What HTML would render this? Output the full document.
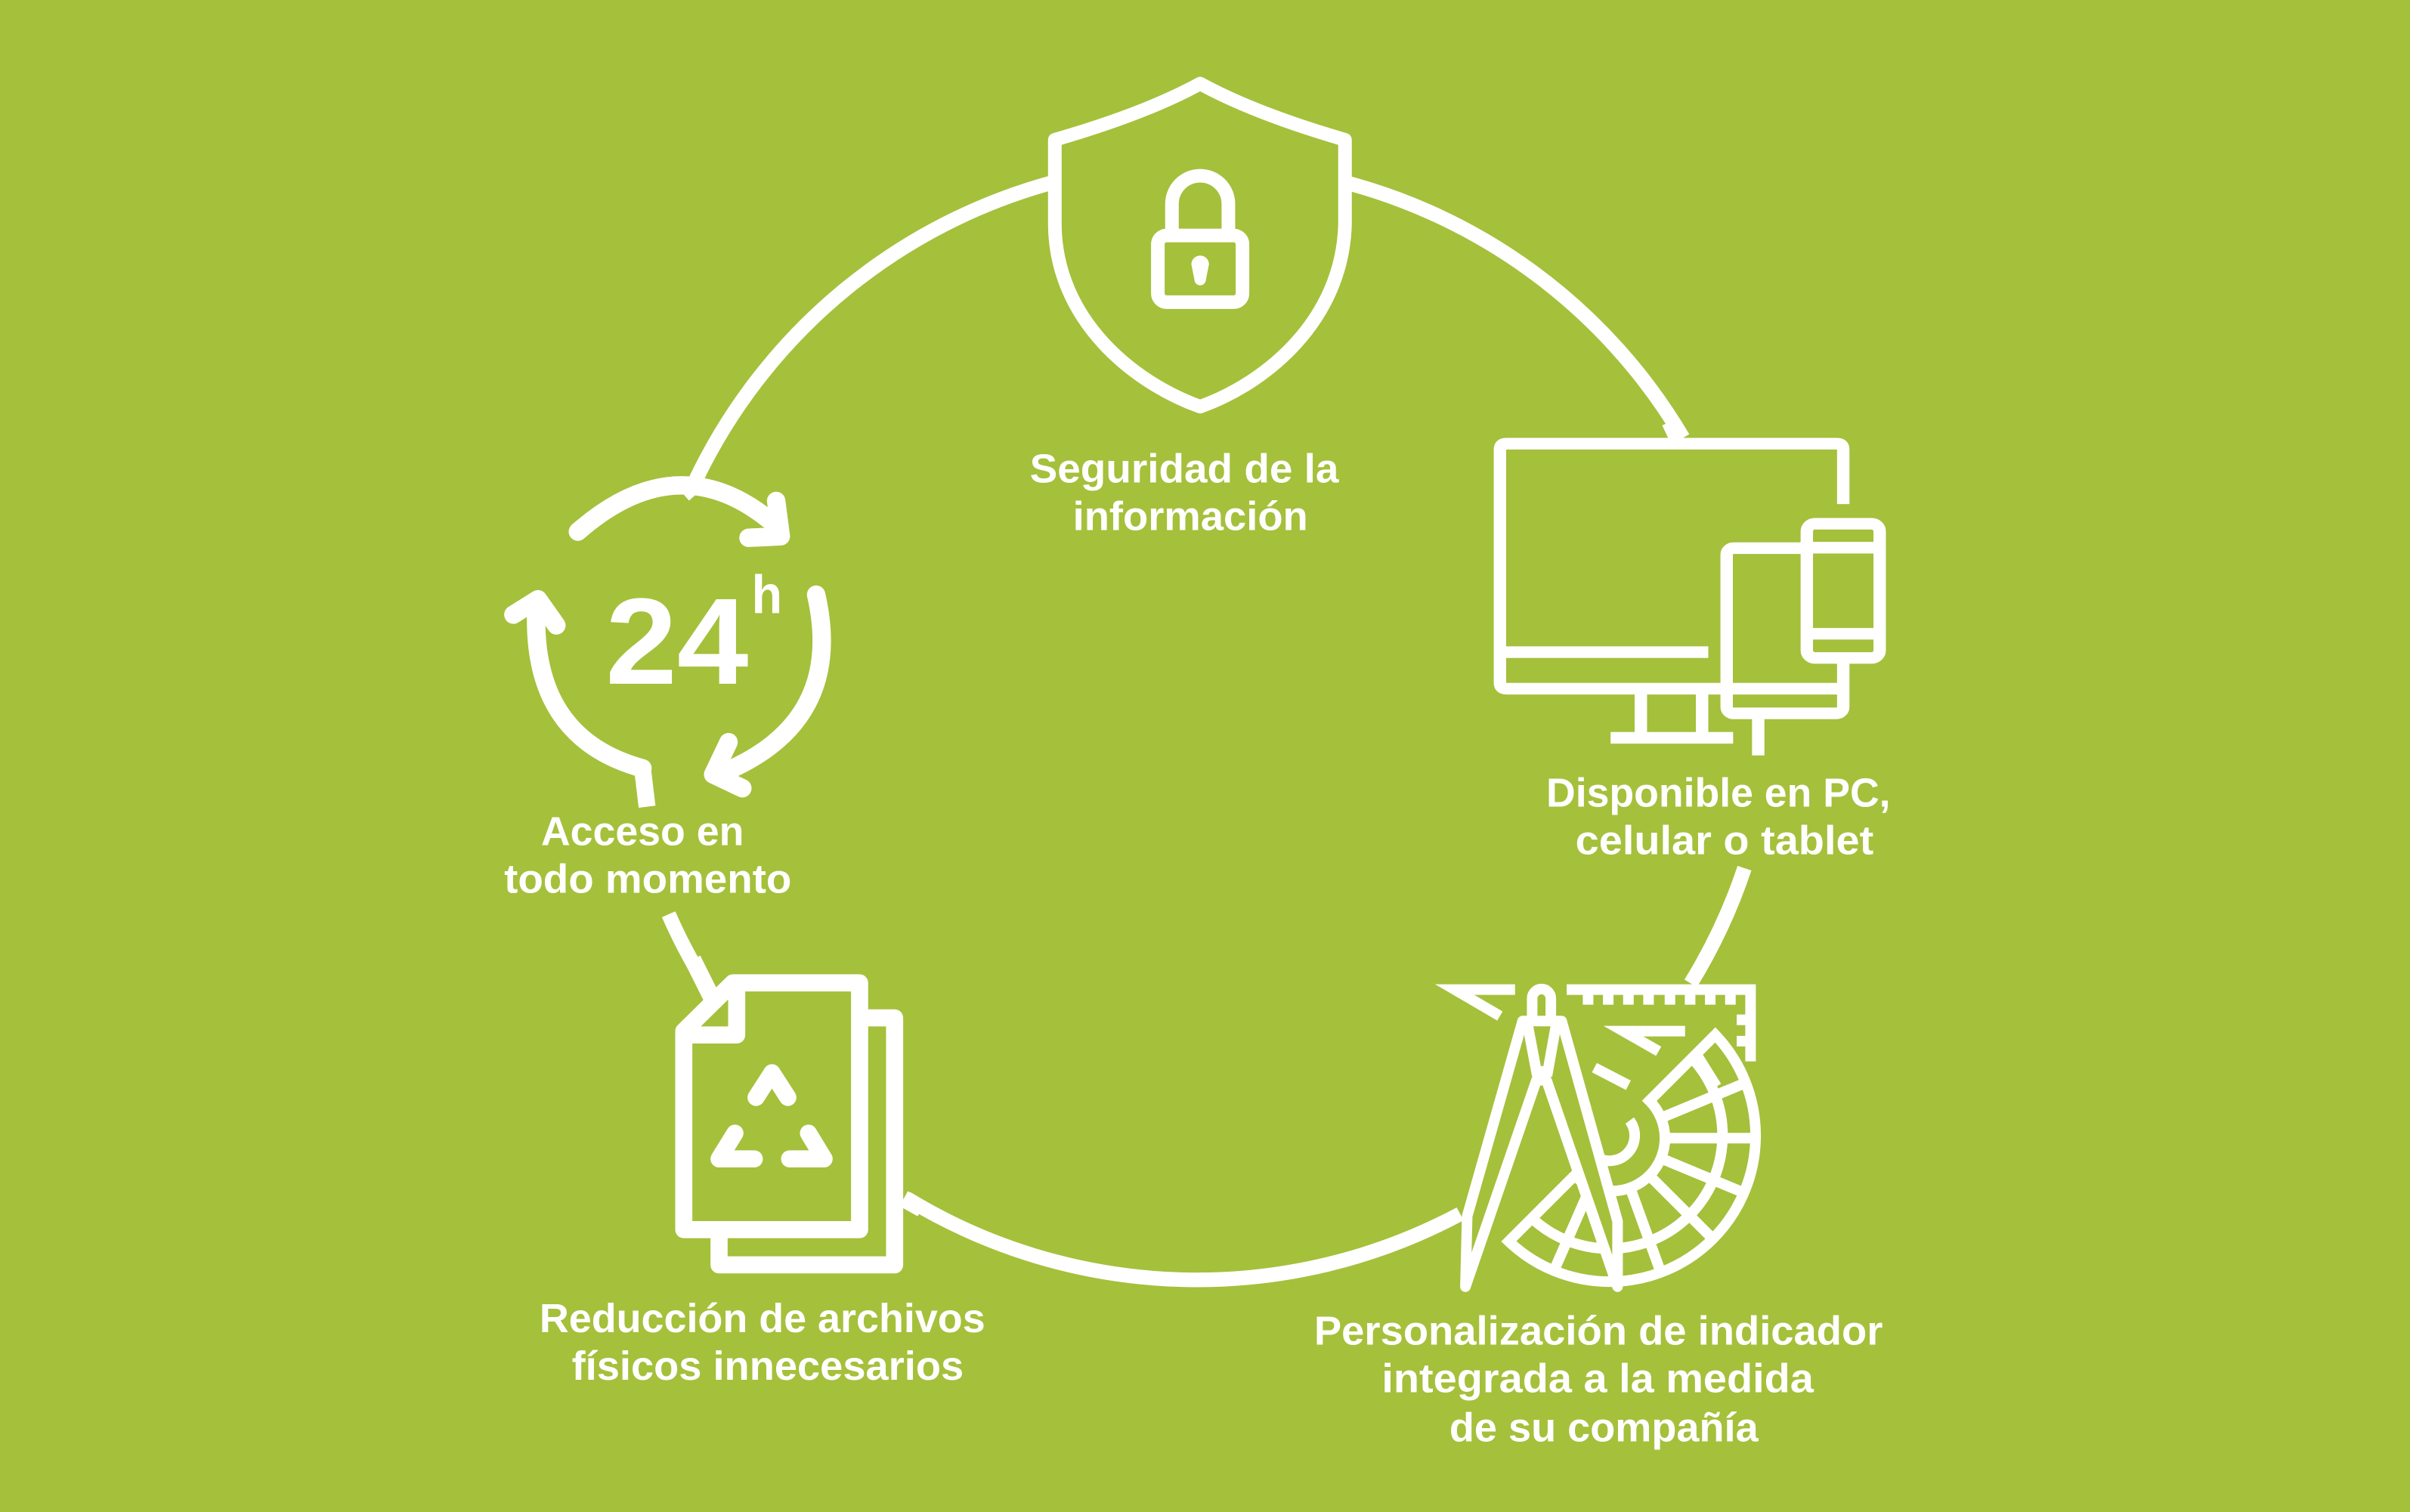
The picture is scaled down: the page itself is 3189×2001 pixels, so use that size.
<!DOCTYPE html>
<html><head><meta charset="utf-8"><style>
html,body{margin:0;padding:0;background:#a5c03b;}
svg{display:block}
text{font-family:"Liberation Sans Narrow","Liberation Sans",sans-serif;font-weight:bold;fill:#fff;font-size:26.5px}
</style></head><body>
<svg width="3189" height="2001" viewBox="0 0 1568 984" preserveAspectRatio="none" xmlns="http://www.w3.org/2000/svg">
<rect width="1568" height="984" fill="#a5c03b"/>
<g fill="none" stroke="#fff" stroke-width="9.5">
<path d="M450,318 A363,363 0 0 1 700,115"/>
<path d="M860,115 A363,363 0 0 1 1095,285"/>
<path d="M1135,565 A363,363 0 0 1 1100,640"/>
<path d="M950,790 A363,363 0 0 1 590,780"/>
<path d="M465,650 A363,363 0 0 1 435,595"/>
</g>

<!-- shield -->
<g transform="translate(668.6,44.25) scale(0.16388)" stroke="#fff" stroke-width="54" stroke-linejoin="round" stroke-linecap="round">
<path fill="#a5c03b" d="M685,62 Q900,180 1260,285 L1260,620 C1250,1000 950,1250 685,1345 C420,1250 110,1000 108,620 L108,285 Q470,180 685,62 Z"/>
<path fill="none" d="M573,650 L573,540 A112,112 0 0 1 797,540 L797,650"/>
<rect x="517" y="665" width="336" height="265" rx="35" fill="none"/>
<path fill="#fff" stroke="none" d="M650,780 A35,35 0 1 1 720,780 L708,840 A23,23 0 0 1 662,840 Z"/>
</g>

<!-- devices -->
<g transform="translate(958.7,275.3) scale(0.17559,0.16388)" fill="none" stroke="#fff" stroke-width="46">
<path d="M720,0 L762,95"/>
<path d="M1370,322 L1370,105 Q1370,82 1347,82 L121,82 Q98,82 98,105 L98,1032 Q98,1055 121,1055 L915,1055"/>
<path d="M98,910 L870,910"/>
<path d="M620,1055 L620,1250 M847,1055 L847,1250 M508,1250 L962,1250"/>
<path d="M1055,1150 L1055,1320"/>
<rect x="938" y="497" width="432" height="656" rx="25" fill="#a5c03b"/>
<path d="M938,1055 L1370,1055"/>
<rect x="1235" y="400" width="270" height="533" rx="30" fill="#a5c03b"/>
<path d="M1235,495 L1505,495 M1235,837 L1505,837"/>
</g>

<!-- 24h -->
<g fill="none" stroke="#fff" stroke-width="12" stroke-linecap="round" stroke-linejoin="round">
<path d="M453,315 L445,322" stroke-linecap="butt" stroke-width="10"/>
<path d="M376,346 Q440,290 500,338"/>
<path d="M505,326 L508,349 L487,350"/>
<path d="M418,500 Q345,480 349,395"/>
<path d="M334,400 L350,390 L362,407"/>
<path d="M418,500 L421,525" stroke-linecap="butt" stroke-width="11"/>
<path d="M531,387 Q550,470 470,503"/>
<path d="M474,483 L464,504 L483,513"/>
</g>
<text x="394" y="445" style="font-family:'Liberation Sans',sans-serif;font-size:80px" textLength="93" lengthAdjust="spacingAndGlyphs">24</text>
<text x="489" y="399" style="font-family:'Liberation Sans',sans-serif;font-size:35px" textLength="20" lengthAdjust="spacingAndGlyphs">h</text>

<!-- documents -->
<g transform="translate(432.6,624.4) scale(0.16388)" fill="none" stroke="#fff" stroke-width="68" stroke-linejoin="round" stroke-linecap="round">
<path d="M110,0 L185,150" stroke-linecap="butt"/>
<path d="M948,950 L1020,990" stroke-linecap="butt"/>
<path d="M808,232 L912,232 L912,1213 L215,1213 L215,1073"/>
<path d="M270,93 L773,93 L773,1073 L75,1073 L75,285 Z"/>
<path d="M285,93 L285,300 L75,300"/>
<path d="M362,548 L425,450 L488,548"/>
<path d="M278,690 L215,792 L355,792"/>
<path d="M570,690 L632,792 L495,792"/>
</g>

<!-- ruler / compass / protractor -->
<g transform="translate(934.1,614.5) scale(0.16388)" fill="none" stroke="#fff" stroke-width="42">
<path d="M315,180 L75,180 L255,285"/>
<path d="M520,180 L1250,180 L1250,465"/>
<path d="M605,180 L605,240 M685,180 L685,240 M765,180 L765,240 M845,180 L845,240 M930,180 L930,240 M1010,180 L1010,240 M1090,180 L1090,240 M1170,180 L1170,240 M1250,300 L1195,300 M1250,385 L1195,385"/>
<path d="M990,345 L745,345 L885,425"/>
<path d="M630,490 L765,560"/>
<path d="M1110,360 A580,580 0 0 1 290,1180 L551.5,918.5 A210,210 0 0 0 848.5,621.5 Z" fill="#a5c03b"/>
<path d="M1018,452 A450,450 0 0 1 382,1088"/>
<path d="M770,700 A100,100 0 0 1 630,840"/>
<path d="M894,690 L1236,548 M910,770 L1280,770 M894,850 L1236,992 M848,918 L1110,1180 M772,967 L898,1315 M615,964 L470,1295"/>
<path d="M1040,445 L1115,565"/>
<path d="M383,285 L383,215 A37,37 0 0 1 457,215 L457,285" />
<path fill="#a5c03b" stroke-linejoin="round" d="M345,305 L500,305 L722,1100 L722,1360 L440,540 L400,540 L118,1360 L125,1080 Z"/>
<path d="M365,320 L400,505 L445,505 L478,320"/>
</g>

<!-- labels -->
<text x="670" y="314" textLength="201" lengthAdjust="spacingAndGlyphs">Seguridad de la</text>
<text x="698" y="345" textLength="153" lengthAdjust="spacingAndGlyphs">información</text>
<text x="1006" y="525" textLength="224" lengthAdjust="spacingAndGlyphs">Disponible en PC,</text>
<text x="1025" y="556" textLength="194" lengthAdjust="spacingAndGlyphs">celular o tablet</text>
<text x="352" y="550" textLength="132" lengthAdjust="spacingAndGlyphs">Acceso en</text>
<text x="328" y="581" textLength="187" lengthAdjust="spacingAndGlyphs">todo momento</text>
<text x="351" y="867" textLength="290" lengthAdjust="spacingAndGlyphs">Reducción de archivos</text>
<text x="372" y="898" textLength="255" lengthAdjust="spacingAndGlyphs">físicos innecesarios</text>
<text x="855" y="875" textLength="370" lengthAdjust="spacingAndGlyphs">Personalización de indicador</text>
<text x="899" y="906" textLength="281" lengthAdjust="spacingAndGlyphs">integrada a la medida</text>
<text x="943" y="938" textLength="201" lengthAdjust="spacingAndGlyphs">de su compañía</text>
</svg>
</body></html>
